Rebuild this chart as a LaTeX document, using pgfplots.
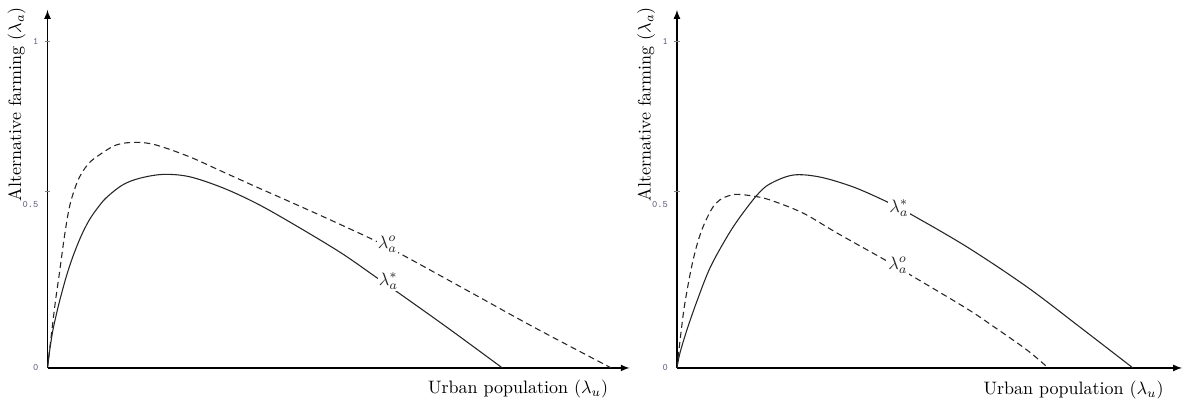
\documentclass[border=0pt]{standalone}
\usepackage{pgfplots}
\pgfplotsset{compat=1.18}

\pgfplotstableread{
x y
0.000 0.000
0.006 0.049
0.016 0.113
0.026 0.159
0.037 0.205
0.057 0.278
0.077 0.339
0.103 0.404
0.128 0.453
0.153 0.489
0.180 0.521
0.230 0.560
0.281 0.580
0.353 0.592
0.434 0.585
0.536 0.551
0.638 0.504
0.740 0.447
0.893 0.355
1.000 0.281
1.083 0.223
1.229 0.119
1.391 0.000
}\leftstar

\pgfplotstableread{
x y
0.000 0.000
0.011 0.095
0.024 0.202
0.037 0.294
0.052 0.404
0.067 0.492
0.083 0.547
0.098 0.584
0.122 0.621
0.149 0.645
0.210 0.682
0.271 0.690
0.332 0.682
0.434 0.646
0.536 0.600
0.638 0.554
0.740 0.509
0.893 0.440
1.040 0.370
1.280 0.239
1.483 0.127
1.724 0.000
}\lefto

\pgfplotstableread{
x y
0.000 0.000
0.009 0.045
0.031 0.118
0.061 0.204
0.101 0.306
0.153 0.401
0.193 0.462
0.245 0.529
0.284 0.563
0.355 0.590
0.437 0.584
0.538 0.554
0.630 0.514
0.679 0.489
0.719 0.468
0.887 0.370
1.070 0.248
1.232 0.125
1.394 0.000
}\rightstar

\pgfplotstableread{
x y
0.000 0.000
0.009 0.080
0.021 0.177
0.034 0.254
0.046 0.315
0.061 0.376
0.076 0.422
0.092 0.459
0.110 0.492
0.131 0.514
0.156 0.526
0.183 0.531
0.232 0.526
0.284 0.514
0.385 0.474
0.489 0.413
0.621 0.339
0.673 0.309
0.713 0.285
0.887 0.181
0.966 0.128
1.070 0.055
1.135 0.000
}\righto

\definecolor{ticktext}{rgb}{0.38,0.38,0.52}

\pgfplotsset{
  panel/.style={
    scale only axis,
    anchor=south west,
    height=198.9pt,
    axis lines=left,
    axis line style={-latex, line width=0.7pt},
    xmin=0, ymin=0, ymax=1.095,
    xtick=\empty,
    ytick={0,0.5,1},
    yticklabels={\texttt{0},\texttt{0.5},\texttt{1}},
    major tick length=0pt,
    extra y ticks={0.541,1},
    extra y tick labels={},
    extra y tick style={major tick length=3pt, tick align=center, tick style={line width=0.5pt}},
    yticklabel style={font=\fontsize{5.5}{6}\selectfont, text=ticktext, anchor=east, xshift=-1.5pt},
    every axis plot/.append style={line width=0.6pt, black!85, smooth, tension=0.55, mark=none},
  },
}
\tikzset{curvelabel/.style={fill=white, inner sep=0.6pt, text=black!85}}

\begin{document}
\begin{tikzpicture}
\path[use as bounding box] (0pt,0pt) rectangle (661.7pt,225pt);

\begin{axis}[panel,
  at={(26.39pt,20.56pt)}, width=323.4pt, xmax=1.780,
  every axis x label/.style={at={(axis description cs:0.974,-0.059)}, anchor=east},
  every axis y label/.style={at={(axis description cs:-0.053,1.026)}, rotate=90, anchor=east},
  xlabel={Urban population ($\lambda_u$)},
  ylabel={Alternative farming ($\lambda_a$)},
]
\addplot[dash pattern=on 3.4pt off 2.2pt] table[x=x,y=y] {\lefto};
\addplot[solid] table[x=x,y=y] {\leftstar};
\node[curvelabel] at (axis cs:1.040,0.379) {$\lambda_a^o$};
\node[curvelabel] at (axis cs:1.043,0.266) {$\lambda_a^*$};
\end{axis}

\begin{axis}[panel,
  at={(376.1pt,20.56pt)}, width=280.6pt, xmax=1.544,
  every axis x label/.style={at={(axis description cs:0.976,-0.061)}, anchor=east},
  every axis y label/.style={at={(axis description cs:-0.061,1.026)}, rotate=90, anchor=east},
  xlabel={Urban population ($\lambda_u$)},
  ylabel={Alternative farming ($\lambda_a$)},
]
\addplot[dash pattern=on 3.4pt off 2.2pt] table[x=x,y=y] {\righto};
\addplot[solid] table[x=x,y=y] {\rightstar};
\node[curvelabel] at (axis cs:0.679,0.489) {$\lambda_a^*$};
\node[curvelabel] at (axis cs:0.676,0.315) {$\lambda_a^o$};
\end{axis}
\end{tikzpicture}
\end{document}
